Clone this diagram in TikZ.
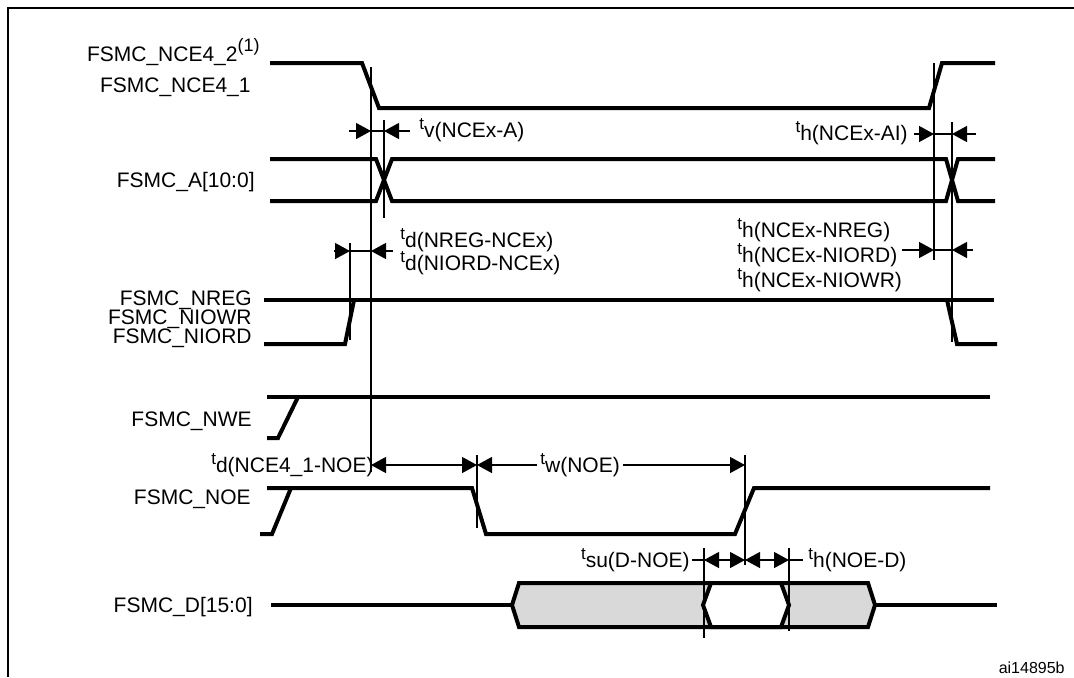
\documentclass[tikz,border=0pt]{standalone}
\usepackage{fontspec}
\setmainfont{Liberation Sans}
\usetikzlibrary{arrows.meta,calc}

\definecolor{busgray}{RGB}{217,217,217}
\newcommand{\tlab}[1]{\raisebox{4pt}{\fontsize{8.5}{9}\selectfont t}#1}

\begin{document}
\begin{tikzpicture}[x=0.5pt,y=-0.5pt,
        sig/.style={line width=2pt},
        bus/.style={line width=2pt,line join=miter},
        thin/.style={line width=0.65pt},
        >={Triangle[length=7.5pt,width=8pt]},
        lbl/.style={inner sep=0pt,font=\fontsize{10.5}{12}\selectfont}]
        %\draw [help lines] (0,0) grid (1074,677);
        \useasboundingbox (0,0) rectangle (1074,677);

        \draw [line width=1pt] (8,677) -- (8,8) -- (1074,8);

        % signal names
        \node [lbl,anchor=base east] (nce2) at (260,61) {FSMC\_NCE4\_2\raisebox{5pt}{\fontsize{9}{9}\selectfont(1)}};
        \node [lbl,anchor=base east] (nce1) at (251,92) {FSMC\_NCE4\_1};
        \node [lbl,anchor=base east] (addr) at (255,187) {FSMC\_A[10:0]};
        \node [lbl,anchor=base east] (nreg) at (252,305) {FSMC\_NREG};
        \node [lbl,anchor=base east] (niowr) at (252,324) {FSMC\_NIOWR};
        \node [lbl,anchor=base east] (niord) at (252,343) {FSMC\_NIORD};
        \node [lbl,anchor=base east] (nwe) at (252,426) {FSMC\_NWE};
        \node [lbl,anchor=base east] (noe) at (251,504) {FSMC\_NOE};
        \node [lbl,anchor=base east] (data) at (253,612) {FSMC\_D[15:0]};

        % waveforms
        \draw [sig] (270,63) -- (362,63) -- (379,108) -- (929,108) -- (942,63) -- (995,63);
        \draw [sig] (270,159) -- (376,159) -- (392,201) -- (946,201) -- (958,159) -- (995,159);
        \draw [sig] (270,201) -- (376,201) -- (392,159) -- (946,159) -- (958,201) -- (995,201);
        \draw [sig] (264,300) -- (994,300);
        \draw [sig] (264,344) -- (345,344) -- (354,300);
        \draw [sig] (947,300) -- (957,344) -- (997,344);
        \draw [sig] (267,397) -- (990,397);
        \draw [sig] (267,438) -- (278,438) -- (298,397);
        \draw [sig] (267,488) -- (472,488) -- (486,534) -- (735,534) -- (754,488) -- (990,488);
        \draw [sig] (260,534) -- (272,534) -- (291,488);
        \draw [line width=1.6pt] (271,605) -- (512,605);
        \draw [bus,fill=busgray] (512,605) -- (519,583) -- (868,583) -- (875,605) -- (868,627) -- (519,627) -- cycle;
        \draw [bus,fill=white] (703,605) -- (711,583) -- (781,583) -- (789,605) -- (781,627) -- (711,627) -- cycle;
        \draw [line width=1.6pt] (875,605) -- (997,605);

        % reference lines
        \draw [thin] (371,67) -- (371,472);
        \draw [thin] (384,120) -- (384,218);
        \draw [thin] (350,243) -- (350,340);
        \draw [thin] (934,63) -- (934,260);
        \draw [thin] (952,122) -- (952,342);
        \draw [thin] (477,455) -- (477,528);
        \draw [thin] (745,455) -- (745,565);
        \draw [thin] (704,548) -- (704,638);
        \draw [thin] (789,548) -- (789,631);

        % timing arrows
        \draw [thin,->] (349,131) -- (371,131);
        \draw [thin,->] (410,131) -- (384,131);
        \draw [thin] (371,131) -- (384,131);
        \draw [thin,->] (914,134) -- (934,134);
        \draw [thin,->] (976,134) -- (952,134);
        \draw [thin] (934,134) -- (952,134);
        \draw [thin,->] (334,251) -- (350,251);
        \draw [thin,->] (393,251) -- (371,251);
        \draw [thin] (350,251) -- (371,251);
        \draw [thin,->] (902,250) -- (934,250);
        \draw [thin,->] (973,250) -- (952,250);
        \draw [thin] (934,250) -- (952,250);
        \draw [thin,<->] (371,465) -- (477,465);
        \draw [thin,<-] (477,465) -- (537,465);
        \draw [thin,->] (623,465) -- (745,465);
        \draw [thin] (692,560) -- (704,560);
        \draw [thin,<->] (704,560) -- (745,560);
        \draw [thin,<->] (745,560) -- (789,560);
        \draw [thin] (789,560) -- (803,560);

        % timing names
        \node [lbl,anchor=base west] (tv) at (419,137) {\tlab{v(NCEx-A)}};
        \node [lbl,anchor=base east] (thai) at (908,140) {\tlab{h(NCEx-AI)}};
        \node [lbl,anchor=base west] (tdnreg) at (400,247) {\tlab{d(NREG-NCEx)}};
        \node [lbl,anchor=base west] (tdniord) at (400,270) {\tlab{d(NIORD-NCEx)}};
        \node [lbl,anchor=base west] (thnreg) at (737,237) {\tlab{h(NCEx-NREG)}};
        \node [lbl,anchor=base west] (thniord) at (737,262) {\tlab{h(NCEx-NIORD)}};
        \node [lbl,anchor=base west] (thniowr) at (737,287) {\tlab{h(NCEx-NIOWR)}};
        \node [lbl,anchor=base east] (tdnoe) at (374,472) {\tlab{d(NCE4\_1-NOE)}};
        \node [lbl,anchor=base west] (twnoe) at (540,472) {\tlab{w(NOE)}};
        \node [lbl,anchor=base east] (tsu) at (690,567) {\tlab{su(D-NOE)}};
        \node [lbl,anchor=base west] (thd) at (808,567) {\tlab{h(NOE-D)}};
        \node [inner sep=0pt,anchor=base east,font=\fontsize{8}{9}\selectfont] (fig) at (1065,673) {ai14895b};
\end{tikzpicture}
\end{document}
